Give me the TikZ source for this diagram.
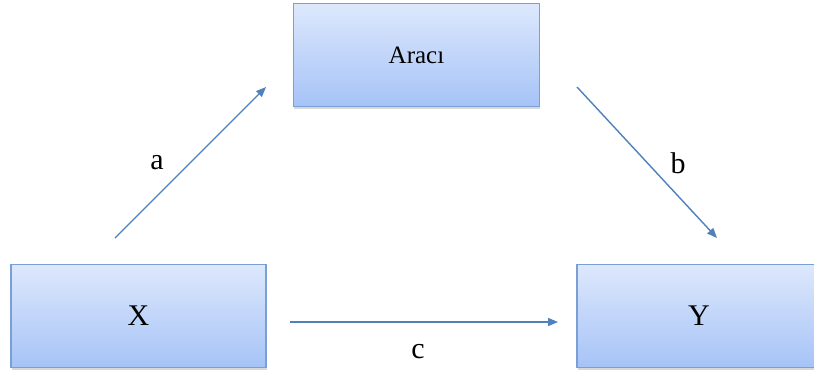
\documentclass[tikz,border=0pt]{standalone}
\usepackage{fontspec}
\setmainfont{Liberation Serif}
\usetikzlibrary{arrows.meta,shadows}
\definecolor{boxtop}{HTML}{DDE8FC}
\definecolor{boxbot}{HTML}{A6C3F7}
\definecolor{boxline}{HTML}{7A9FD4}
\definecolor{arrowcol}{HTML}{4F81BD}
\tikzset{
  varbox/.style={draw=boxline, line width=1.8pt, top color=boxtop, bottom color=boxbot,
    minimum height=103pt, inner sep=0pt, font=\fontsize{30}{30}\selectfont,
    drop shadow={opacity=0.3, shadow xshift=0.5pt, shadow yshift=-2.5pt}},
  path/.style={draw=arrowcol, line width=1.4pt, -{Triangle[length=10pt,width=8pt]}},
  lbl/.style={font=\fontsize{30}{30}\selectfont, inner sep=0pt}
}
\begin{document}
\begin{tikzpicture}[x=1pt,y=-1pt]
\useasboundingbox (0,0) rectangle (814,376);
\fill[white] (0,0) rectangle (814,376);
\clip (0,0) rectangle (814,376);
\node[varbox, minimum width=246pt, font=\fontsize{25}{25}\selectfont] (m) at (416.5,55) {Aracı};
\node[varbox, minimum width=255pt] (x) at (138.5,316) {X};
\node[varbox, minimum width=258pt] (y) at (706,316) {\hspace{-14pt}Y};
\coordinate (a1) at (115,238);
\coordinate (a2) at (266,87);
\coordinate (b1) at (577,87);
\coordinate (b2) at (717,238);
\coordinate (c1) at (290,322);
\coordinate (c2) at (558,322);
\draw[path] (a1) -- (a2);
\draw[path] (b1) -- (b2);
\draw[path] (c1) -- (c2);
\node[lbl] (la) at (157,163) {a};
\node[lbl] (lb) at (678,163) {b};
\node[lbl] (lc) at (418,352) {c};
\end{tikzpicture}
\end{document}
